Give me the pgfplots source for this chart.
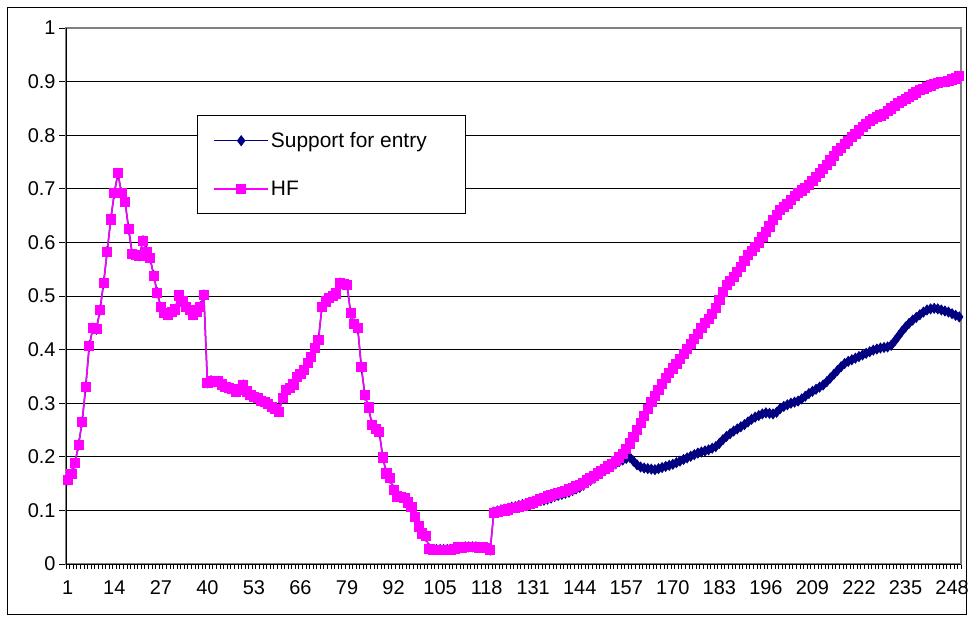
\documentclass[border=0pt]{standalone}
\usepackage{pgfplots}
\usepackage{pgfplotstable}
\pgfplotsset{compat=1.18}
\usepackage{fontspec}
\setmainfont{Liberation Sans}
\definecolor{supNavy}{RGB}{0,0,128}
\definecolor{hfPink}{RGB}{255,0,255}

% i  hf  sup
\pgfplotstableread{
i hf sup
1 0.157 0.157
2 0.168 0.168
3 0.188 0.188
4 0.222 0.222
5 0.265 0.265
6 0.330 0.330
7 0.407 0.407
8 0.440 0.440
9 0.438 0.438
10 0.474 0.474
11 0.524 0.524
12 0.583 0.583
13 0.643 0.643
14 0.692 0.692
15 0.729 0.729
16 0.692 0.692
17 0.676 0.676
18 0.625 0.625
19 0.578 0.578
20 0.576 0.576
21 0.575 0.575
22 0.603 0.603
23 0.583 0.583
24 0.571 0.571
25 0.538 0.538
26 0.506 0.506
27 0.479 0.479
28 0.468 0.468
29 0.465 0.465
30 0.470 0.470
31 0.475 0.475
32 0.501 0.501
33 0.490 0.490
34 0.480 0.480
35 0.474 0.474
36 0.465 0.465
37 0.470 0.470
38 0.480 0.480
39 0.502 0.502
40 0.338 0.338
41 0.342 0.342
42 0.340 0.340
43 0.341 0.341
44 0.335 0.335
45 0.330 0.330
46 0.328 0.328
47 0.326 0.326
48 0.322 0.322
49 0.325 0.325
50 0.334 0.334
51 0.322 0.322
52 0.315 0.315
53 0.312 0.312
54 0.310 0.310
55 0.305 0.305
56 0.303 0.303
57 0.298 0.298
58 0.293 0.293
59 0.290 0.290
60 0.284 0.284
61 0.310 0.310
62 0.325 0.325
63 0.328 0.328
64 0.335 0.335
65 0.349 0.349
66 0.355 0.355
67 0.362 0.362
68 0.375 0.375
69 0.387 0.387
70 0.403 0.403
71 0.418 0.418
72 0.480 0.480
73 0.490 0.490
74 0.496 0.496
75 0.500 0.500
76 0.505 0.505
77 0.524 0.524
78 0.522 0.522
79 0.521 0.521
80 0.468 0.468
81 0.448 0.448
82 0.440 0.440
83 0.367 0.367
84 0.315 0.315
85 0.292 0.292
86 0.259 0.259
87 0.252 0.252
88 0.246 0.246
89 0.199 0.199
90 0.169 0.169
91 0.160 0.160
92 0.138 0.138
93 0.126 0.126
94 0.125 0.125
95 0.123 0.123
96 0.115 0.115
97 0.107 0.107
98 0.088 0.088
99 0.070 0.070
100 0.057 0.057
101 0.052 0.052
102 0.028 0.028
103 0.027 0.027
104 0.027 0.027
105 0.027 0.027
106 0.027 0.027
107 0.027 0.027
108 0.027 0.027
109 0.028 0.028
110 0.031 0.031
111 0.031 0.031
112 0.032 0.032
113 0.032 0.032
114 0.032 0.032
115 0.032 0.032
116 0.031 0.031
117 0.031 0.031
118 0.030 0.030
119 0.026 0.026
120 0.095 0.097
121 0.097 0.099
122 0.099 0.101
123 0.100 0.102
124 0.102 0.104
125 0.104 0.106
126 0.105 0.107
127 0.107 0.109
128 0.109 0.111
129 0.111 0.113
130 0.113 0.115
131 0.115 0.117
132 0.118 0.119
133 0.121 0.118
134 0.124 0.119
135 0.126 0.121
136 0.128 0.123
137 0.131 0.126
138 0.133 0.128
139 0.135 0.130
140 0.137 0.132
141 0.139 0.134
142 0.142 0.137
143 0.145 0.140
144 0.148 0.143
145 0.152 0.147
146 0.157 0.152
147 0.161 0.156
148 0.165 0.160
149 0.169 0.165
150 0.173 0.170
151 0.177 0.174
152 0.182 0.178
153 0.187 0.183
154 0.193 0.187
155 0.199 0.191
156 0.206 0.194
157 0.214 0.197
158 0.225 0.199
159 0.237 0.192
160 0.250 0.185
161 0.263 0.181
162 0.277 0.179
163 0.290 0.178
164 0.302 0.177
165 0.314 0.176
166 0.325 0.178
167 0.336 0.180
168 0.347 0.182
169 0.356 0.184
170 0.365 0.186
171 0.373 0.189
172 0.382 0.192
173 0.392 0.195
174 0.401 0.198
175 0.410 0.201
176 0.420 0.204
177 0.430 0.207
178 0.440 0.209
179 0.450 0.211
180 0.458 0.213
181 0.466 0.216
182 0.478 0.219
183 0.492 0.225
184 0.508 0.232
185 0.520 0.238
186 0.528 0.243
187 0.535 0.248
188 0.545 0.252
189 0.555 0.256
190 0.565 0.260
191 0.576 0.265
192 0.584 0.270
193 0.592 0.274
194 0.600 0.277
195 0.610 0.280
196 0.620 0.282
197 0.630 0.281
198 0.642 0.280
199 0.652 0.283
200 0.660 0.290
201 0.666 0.294
202 0.672 0.297
203 0.679 0.300
204 0.686 0.302
205 0.692 0.304
206 0.697 0.308
207 0.702 0.313
208 0.708 0.318
209 0.715 0.322
210 0.722 0.326
211 0.729 0.330
212 0.737 0.334
213 0.745 0.340
214 0.753 0.347
215 0.762 0.354
216 0.770 0.361
217 0.777 0.368
218 0.784 0.374
219 0.790 0.378
220 0.797 0.381
221 0.803 0.384
222 0.809 0.387
223 0.815 0.390
224 0.821 0.393
225 0.826 0.396
226 0.830 0.399
227 0.834 0.401
228 0.837 0.403
229 0.840 0.404
230 0.845 0.405
231 0.850 0.408
232 0.855 0.416
233 0.860 0.425
234 0.864 0.434
235 0.868 0.442
236 0.872 0.449
237 0.876 0.455
238 0.880 0.460
239 0.884 0.465
240 0.887 0.470
241 0.890 0.474
242 0.893 0.476
243 0.896 0.477
244 0.898 0.476
245 0.899 0.474
246 0.900 0.472
247 0.902 0.470
248 0.904 0.467
249 0.906 0.464
250 0.910 0.461
}\datatable

\begin{document}
\begin{tikzpicture}
\useasboundingbox (0,0) rectangle (970bp,617bp);
\draw[black, line width=0.8bp] (7bp,3bp) rectangle (966bp,610bp);
\begin{axis}[
    at={(66bp,53bp)}, anchor=south west,
    scale only axis,
    width=895bp, height=536bp,
    xmin=0.5, xmax=250.5,
    ymin=0, ymax=1,
    clip=false,
    xtick={1,14,...,248},
    minor xtick={0.5,1.5,...,250.5},
    ytick={0,0.1,0.2,0.3,0.4,0.5,0.6,0.7,0.8,0.9,1},
    yticklabel style={/pgf/number format/fixed, /pgf/number format/precision=1},
    /pgf/number format/assume math mode=true,
    ticklabel style={font=\fontsize{20}{24}\selectfont},
    xticklabel style={yshift=-6bp},
    tick align=outside,
    xtick pos=left, ytick pos=left,
    major tick length=7bp, minor tick length=5bp,
    major x tick style={draw=none},
    minor x tick style={black, line width=0.6bp},
    ytick style={black, line width=0.8bp},
    ymajorgrids,
    grid style={black, line width=0.8bp},
    axis line style={draw=gray, line width=1.2bp},
    legend style={
        at={(0.1464,0.8377)}, anchor=north west,
        draw=black, fill=white, line width=0.8bp,
        font=\fontsize{21}{25}\selectfont,
        inner xsep=16bp, inner ysep=15bp,
        row sep=28bp,
    },
    legend cell align=left,
    legend image code/.code={
        \draw[mark repeat=2, mark phase=2, #1] plot coordinates {(0bp,0bp) (27bp,0bp) (54bp,0bp)};
    },
]
\addplot[color=supNavy, line width=1.5bp, mark=diamond*, mark size=5bp,
    mark options={fill=supNavy, draw=supNavy, line width=0.8bp}] table[x=i, y=sup] {\datatable};
\addplot[color=hfPink, line width=1.5bp, mark=square*, mark size=4.6bp,
    mark options={fill=hfPink, draw=hfPink, line width=0.8bp}] table[x=i, y=hf] {\datatable};
\draw[black, line width=1bp] (rel axis cs:0,0) -- (rel axis cs:0,1);
\draw[black, line width=1bp] (rel axis cs:0,0) -- (rel axis cs:1,0);
\legend{Support for entry\rule{21bp}{0pt}, HF}
\end{axis}
\end{tikzpicture}
\end{document}
